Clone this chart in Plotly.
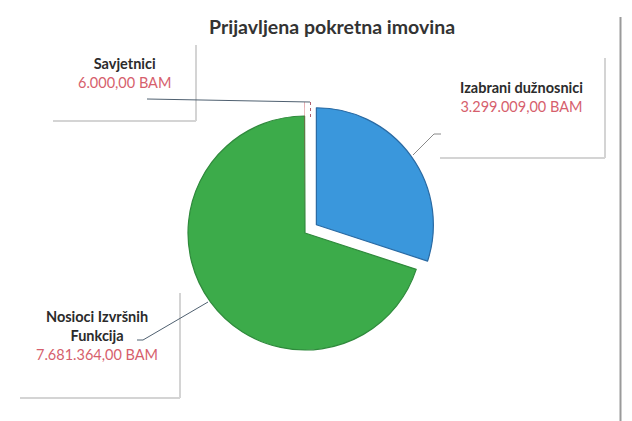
import plotly.graph_objects as go

# ---- data ----
categories = ["Izabrani dužnosnici", "Nosioci Izvršnih Funkcija", "Savjetnici"]
values = [3299009.00, 7681364.00, 6000.00]
title_text = "Prijavljena pokretna imovina"
currency = "BAM"

# ---- style ----
colors = ["#3a97dc", "#3cab4a", "#c94a55"]
edge_colors = ["#2a6aa3", "#2f8a3c", "#c94a55"]
edge_widths = [1.2, 1.2, 0]
pulls = [0.12, 0.0, 0.12]
W, H = 632, 421
label_color = "#2b2b2b"
value_color = "#d65f6d"
leader_color = "#4f6070"
shadow_color = "#d4d4d4"
FONT = "Lato"


def fmt(v):
    s = f"{v:,.2f}"
    return s.replace(",", "X").replace(".", ",").replace("X", ".")


def px(x):
    return x / W


def py(y):
    return 1 - y / H


fig = go.Figure()

# pie: centre ~ (305, 233) px, radius ~117 px
R = 117
maxpull = max(pulls)
half = R * (1 + maxpull)
cx, cy = 305, 233
fig.add_trace(go.Pie(
    labels=categories,
    values=values,
    sort=False,
    direction="clockwise",
    rotation=0,
    pull=pulls,
    marker=dict(colors=colors, line=dict(color=edge_colors, width=edge_widths)),
    textinfo="none",
    hoverinfo="label+value",
    showlegend=False,
    domain=dict(x=[px(cx - half), px(cx + half)], y=[py(cy + half), py(cy - half)]),
))

shapes = []


def line(x0, y0, x1, y1, color, width, dash="solid"):
    shapes.append(dict(type="line", xref="paper", yref="paper",
                       x0=px(x0), y0=py(y0), x1=px(x1), y1=py(y1),
                       line=dict(color=color, width=width, dash=dash)))


# callout box shadows (right + bottom edges)
boxes = [
    (53, 45, 196, 121),    # Savjetnici
    (440, 58, 605, 158),   # Izabrani
    (20, 293, 180, 398),   # Nosioci
]
for (l, t, r, b) in boxes:
    line(r, t, r, b, shadow_color, 2)
    line(l, b, r, b, shadow_color, 2)

# right frame line
line(620.5, 17, 620.5, 421, "#9a9a9a", 2)

# leader lines
line(147, 99, 310, 102, leader_color, 1)
line(310.5, 102, 310.5, 118, "#b06070", 1, "dot")
line(441, 134, 434, 134, "#8a8a8a", 1)
line(434, 134, 413, 155, "#8a8a8a", 1)
line(137, 340, 143, 340, leader_color, 1)
line(143, 340, 208, 302, leader_color, 1)

annotations = []


def label(x, y, name, val):
    txt = f"<b>{name}</b><br><span style='color:{value_color}'>{fmt(val)} {currency}</span>"
    annotations.append(dict(xref="paper", yref="paper", x=px(x), y=py(y),
                            text=txt, showarrow=False, align="center",
                            xanchor="center", yanchor="middle",
                            font=dict(family=FONT, size=14.5, color=label_color)))


label(124, 73, categories[2], values[2])
label(521, 97, categories[0], values[0])
label(97, 335, "Nosioci Izvršnih<br>Funkcija", values[1])

annotations.append(dict(xref="paper", yref="paper", x=px(332), y=py(27),
                        text=f"<b>{title_text}</b>", showarrow=False,
                        xanchor="center", yanchor="middle",
                        font=dict(family=FONT, size=19.5, color="#333333")))

fig.update_layout(
    width=W, height=H,
    margin=dict(l=0, r=0, t=0, b=0),
    paper_bgcolor="white",
    plot_bgcolor="white",
    shapes=shapes,
    annotations=annotations,
)

fig.write_html("out.html", config={"displayModeBar": False},
               post_script="document.body.style.margin='0';")
